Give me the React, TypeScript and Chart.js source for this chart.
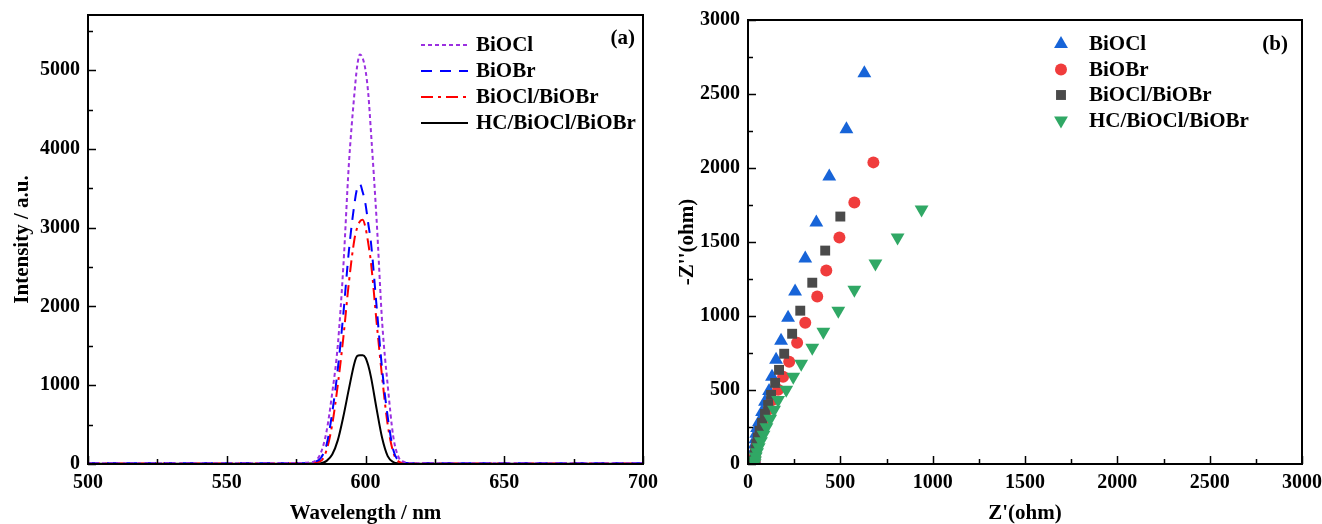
import React, { useEffect, useRef } from 'react';
import { Chart, registerables } from 'chart.js';
Chart.register(...registerables);

// ---------- Panel (a): PL spectra ----------
const wavelength = [500, 520, 540, 560, 575, 580, 582, 584, 586, 588, 590, 592, 594, 596, 597, 598, 599, 600, 601, 602, 604, 606, 608, 610, 612, 614, 616, 620, 640, 660, 680, 700];
const plBiOCl = [10, 10, 8, 10, 12, 20, 40, 150, 420, 900, 1500, 2500, 3800, 4700, 5050, 5200, 5150, 5000, 4700, 4200, 3100, 1800, 1000, 350, 80, 25, 12, 10, 8, 10, 10, 10];
const plBiOBr = [8, 8, 8, 8, 10, 15, 30, 80, 250, 650, 1200, 1900, 2700, 3300, 3500, 3550, 3450, 3300, 3050, 2800, 2000, 1200, 600, 180, 40, 15, 10, 8, 8, 8, 8, 8];
const plComposite = [6, 6, 6, 6, 8, 10, 20, 40, 180, 500, 1000, 1600, 2300, 2850, 3000, 3080, 3100, 3000, 2800, 2550, 1800, 1100, 500, 150, 30, 10, 8, 6, 6, 6, 6, 6];
const plHC = [4, 4, 4, 4, 4, 5, 6, 10, 40, 120, 300, 600, 950, 1280, 1370, 1380, 1380, 1350, 1250, 1100, 700, 330, 100, 25, 8, 5, 4, 4, 4, 4, 4, 4];

const wlTicks = [500, 525, 550, 575, 600, 625, 650, 675, 700];
const wlLabels = [500, 550, 600, 650, 700];
const intTicks = [0, 500, 1000, 1500, 2000, 2500, 3000, 3500, 4000, 4500, 5000, 5500];
const intLabels = [0, 1000, 2000, 3000, 4000, 5000];

// ---------- Panel (b): Nyquist ----------
const zReBiOCl = [630, 533, 440, 370, 310, 255, 217, 179, 152, 130, 114, 92, 76, 60, 49, 44, 40, 37, 35, 34, 34, 35];
const zImBiOCl = [2640, 2261, 1943, 1632, 1388, 1165, 988, 833, 704, 589, 494, 420, 352, 284, 244, 205, 168, 132, 98, 66, 36, 10];
const zReBiOBr = [679, 576, 495, 424, 375, 310, 266, 223, 190, 163, 130, 114, 98, 82, 68, 57, 48, 42, 38, 36, 36];
const zImBiOBr = [2038, 1767, 1530, 1307, 1131, 955, 819, 691, 589, 501, 433, 372, 311, 257, 208, 164, 124, 88, 56, 28, 5];
const zReComposite = [500, 418, 348, 283, 239, 196, 168, 147, 125, 109, 92, 76, 63, 53, 45, 40, 37, 36, 36];
const zImComposite = [1672, 1442, 1225, 1036, 880, 745, 636, 548, 467, 399, 339, 278, 225, 178, 134, 95, 60, 28, 5];
const zReHC = [940, 810, 690, 576, 489, 408, 348, 288, 245, 207, 163, 141, 120, 100, 84, 70, 58, 49, 42, 38, 36];
const zImHC = [1720, 1530, 1354, 1178, 1036, 894, 785, 677, 589, 501, 433, 366, 305, 248, 198, 154, 114, 80, 50, 24, 5];

const zTicks = [0, 250, 500, 750, 1000, 1250, 1500, 1750, 2000, 2250, 2500, 2750, 3000];
const zLabels = [0, 500, 1000, 1500, 2000, 2500, 3000];

const FONT = '"Liberation Serif", "Times New Roman", serif';

const zip = (xs: number[], ys: number[]) => xs.map((x, i) => ({ x, y: ys[i] }));

const decor = {
  id: 'decor',
  afterDraw(chart: any, _args: any, opts: any) {
    const { ctx, chartArea: a } = chart;
    const xs = chart.scales.x;
    const ys = chart.scales.y;
    ctx.save();
    ctx.strokeStyle = '#000';
    ctx.lineWidth = 1.5;
    ctx.beginPath();
    xs.ticks.forEach((t: any) => {
      const p = Math.round(xs.getPixelForValue(t.value)) + 0.5;
      const len = t.label !== '' ? 8 : 5;
      ctx.moveTo(p, a.bottom);
      ctx.lineTo(p, a.bottom - len);
    });
    ys.ticks.forEach((t: any) => {
      const p = Math.round(ys.getPixelForValue(t.value)) + 0.5;
      const len = t.label !== '' ? 8 : 5;
      ctx.moveTo(a.left, p);
      ctx.lineTo(a.left + len, p);
    });
    ctx.stroke();
    ctx.lineWidth = 2;
    ctx.strokeRect(a.left, a.top, a.right - a.left, a.bottom - a.top);

    ctx.fillStyle = '#000';
    ctx.font = `bold 21px ${FONT}`;
    ctx.textAlign = 'right';
    ctx.textBaseline = 'middle';
    ctx.fillText(opts.panel, opts.panelX, opts.panelY);

    ctx.textAlign = 'left';
    chart.data.datasets.forEach((ds: any, i: number) => {
      const y = opts.legY + i * opts.legGap;
      if (opts.kind === 'line') {
        ctx.save();
        ctx.strokeStyle = ds.borderColor;
        ctx.lineWidth = ds.borderWidth;
        ctx.setLineDash(ds.borderDash || []);
        ctx.beginPath();
        ctx.moveTo(opts.symX, y);
        ctx.lineTo(opts.symX + opts.symW, y);
        ctx.stroke();
        ctx.restore();
      } else {
        const cx = opts.symX;
        const r = ds.pointRadius;
        ctx.save();
        ctx.fillStyle = ds.backgroundColor;
        ctx.beginPath();
        if (ds.pointStyle === 'circle') {
          ctx.arc(cx, y, r, 0, Math.PI * 2);
        } else if (ds.pointStyle === 'rect') {
          const s = Math.SQRT1_2 * r;
          ctx.rect(cx - s, y - s, 2 * s, 2 * s);
        } else {
          const dir = ds.rotation === 180 ? -1 : 1;
          const h = r * 1.5;
          ctx.moveTo(cx, y - dir * r);
          ctx.lineTo(cx - r * 0.866, y - dir * (r - h));
          ctx.lineTo(cx + r * 0.866, y - dir * (r - h));
          ctx.closePath();
        }
        ctx.fill();
        ctx.restore();
      }
      ctx.fillStyle = '#000';
      ctx.font = `bold 21px ${FONT}`;
      ctx.fillText(ds.label, opts.textX, y + 1);
    });
    ctx.restore();
  },
};

function axis(min: number, max: number, ticks: number[], labels: number[], title: string, isY: boolean, titlePad = 2) {
  return {
    type: 'linear' as const,
    min,
    max,
    afterBuildTicks: (scale: any) => {
      scale.ticks = ticks.map((v) => ({ value: v }));
    },
    afterFit: (scale: any) => {
      if (isY) scale.width = 80;
      else scale.height = 60;
      scale.paddingTop = 0;
      scale.paddingBottom = 0;
      scale.paddingLeft = 0;
      scale.paddingRight = 0;
    },
    grid: { display: false, drawTicks: false },
    border: { display: false },
    ticks: {
      autoSkip: false,
      maxRotation: 0,
      padding: isY ? 8 : 7,
      color: '#000',
      font: { family: FONT, size: 20, weight: 'bold' as const },
      callback: (v: any) => (labels.includes(Number(v)) ? String(v) : ''),
    },
    title: {
      display: true,
      text: title,
      color: '#000',
      padding: isY ? { top: titlePad, bottom: 0 } : { top: 0, bottom: -2 },
      font: { family: FONT, size: 21, weight: 'bold' as const },
    },
  };
}

function ChartCanvas({ config, width, left }: { config: any; width: number; left: number }) {
  const ref = useRef<HTMLCanvasElement | null>(null);
  useEffect(() => {
    if (!ref.current) return;
    const c = new Chart(ref.current, config);
    return () => c.destroy();
  }, []);
  return (
    <canvas
      ref={ref}
      width={width}
      height={524}
      style={{ position: 'absolute', left, top: 0, width, height: 524 }}
    />
  );
}

export default function App() {
  const lineDs = (label: string, data: number[], color: string, dash: number[]) => ({
    type: 'line' as const,
    label,
    data: zip(wavelength, data),
    borderColor: color,
    backgroundColor: color,
    borderWidth: 2,
    borderDash: dash,
    pointRadius: 0,
    tension: 0,
    cubicInterpolationMode: 'monotone' as const,
    fill: false,
  });

  const configA = {
    type: 'line',
    data: {
      datasets: [
        lineDs('BiOCl', plBiOCl, '#9B30E0', [4, 3]),
        lineDs('BiOBr', plBiOBr, '#0000FF', [11, 8]),
        lineDs('BiOCl/BiOBr', plComposite, '#FF0000', [12, 5, 3, 5]),
        lineDs('HC/BiOCl/BiOBr', plHC, '#000000', []),
      ],
    },
    options: {
      responsive: false,
      animation: false,
      layout: { padding: { left: 8, right: 27, top: 15, bottom: 0 } },
      scales: {
        x: axis(500, 700, wlTicks, wlLabels, 'Wavelength / nm', false),
        y: axis(0, 5700, intTicks, intLabels, 'Intensity / a.u.', true, 2),
      },
      plugins: {
        legend: { display: false },
        tooltip: { enabled: false },
        decor: {
          kind: 'line',
          panel: '(a)',
          panelX: 635,
          panelY: 39,
          legY: 45,
          legGap: 26,
          symX: 421,
          symW: 47,
          textX: 476,
        },
      },
    },
    plugins: [decor],
  };

  const ptDs = (label: string, xs: number[], ys: number[], color: string, style: string, r: number, rot: number, order: number) => ({
    type: 'scatter' as const,
    label,
    data: zip(xs, ys),
    backgroundColor: color,
    borderColor: color,
    borderWidth: 0,
    pointStyle: style,
    pointRadius: r,
    pointRotation: rot,
    rotation: rot,
    order,
  });

  const configB = {
    type: 'scatter',
    data: {
      datasets: [
        ptDs('BiOCl', zReBiOCl, zImBiOCl, '#1764D8', 'triangle', 8, 0, 4),
        ptDs('BiOBr', zReBiOBr, zImBiOBr, '#F03C3C', 'circle', 6, 0, 3),
        ptDs('BiOCl/BiOBr', zReComposite, zImComposite, '#4A4A4A', 'rect', 7, 0, 2),
        ptDs('HC/BiOCl/BiOBr', zReHC, zImHC, '#30A865', 'triangle', 8, 180, 1),
      ],
    },
    options: {
      responsive: false,
      animation: false,
      layout: { padding: { left: 8, right: 20, top: 20, bottom: 0 } },
      scales: {
        x: axis(0, 3000, zTicks, zLabels, "Z'(ohm)", false),
        y: axis(0, 3000, zTicks, zLabels, "-Z''(ohm)", true, 7),
      },
      plugins: {
        legend: { display: false },
        tooltip: { enabled: false },
        decor: {
          kind: 'point',
          panel: '(b)',
          panelX: 628,
          panelY: 45,
          legY: 44,
          legGap: 25.5,
          symX: 401,
          symW: 0,
          textX: 429,
        },
      },
    },
    plugins: [decor],
  };

  return (
    <div style={{ position: 'absolute', left: 0, top: 0, width: 1322, height: 524, background: '#fff' }}>
      <ChartCanvas config={configA} width={670} left={0} />
      <ChartCanvas config={configB} width={662} left={660} />
    </div>
  );
}
